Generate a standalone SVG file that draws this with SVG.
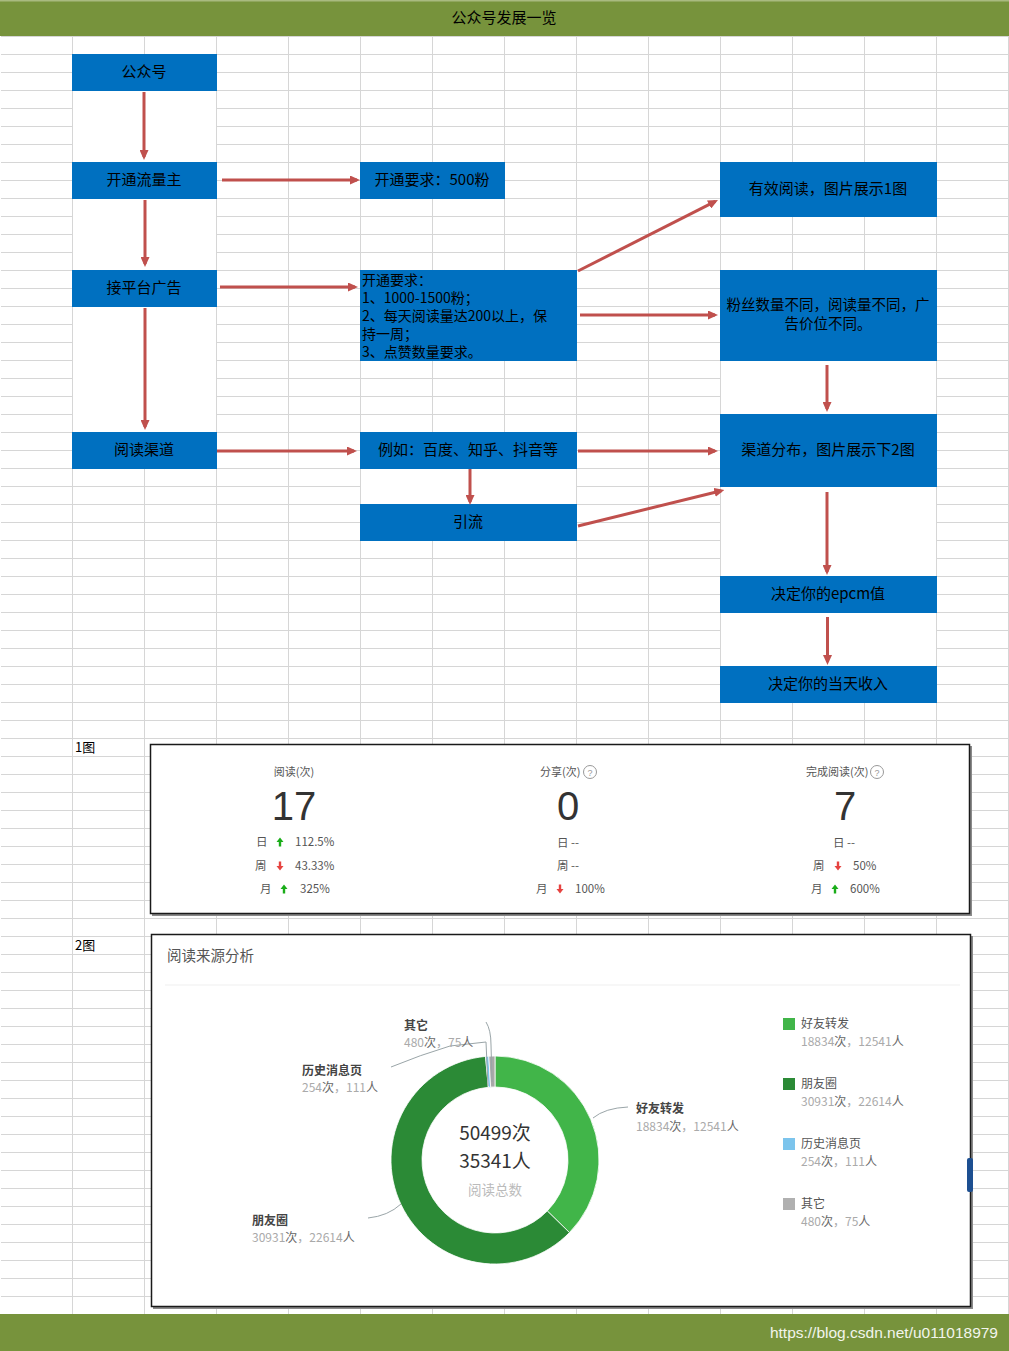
<svg xmlns="http://www.w3.org/2000/svg" width="1009" height="1351" viewBox="0 0 1009 1351">
<defs>
<pattern id="grid" patternUnits="userSpaceOnUse" x="0" y="0" width="72" height="18">
<rect width="72" height="18" fill="#fff"/>
<path d="M0 0.5H72M0.5 0V18" stroke="#d6d6d6" stroke-width="1" fill="none"/>
</pattern>
<marker id="ah" viewBox="0 0 10 9" refX="7" refY="4.5" markerWidth="10" markerHeight="9" markerUnits="userSpaceOnUse" orient="auto"><path d="M0,0 L10,4.5 L0,9 Z" fill="#C0504D"/></marker>
<path id="up" d="M-3.5,0 L0,-4.5 L3.5,0 H1.2 V4.5 H-1.2 V0 Z" fill="#1aad19"/>
<path id="dn" d="M-3.5,0 L0,4.5 L3.5,0 H1.2 V-4.5 H-1.2 V0 Z" fill="#e64340"/>
</defs>
<style>
.box{fill:#0070C0}
.bt{font-family:"Noto Sans CJK SC","Noto Sans",sans-serif;font-size:15px;fill:#000;text-anchor:middle}
.bl{font-family:"Noto Sans CJK SC","Noto Sans",sans-serif;font-size:14px;fill:#000}
.conn line{stroke:#C0504D;stroke-width:3;marker-end:url(#ah)}
.merge{fill:#fff}
.lab{font-family:"Noto Sans CJK SC","Noto Sans",sans-serif;font-size:13px;fill:#000}
.f1{font-family:"Noto Sans CJK SC","Noto Sans",sans-serif;font-size:11.5px;fill:#555}
.big{font-family:"Liberation Sans",Arial,sans-serif;font-size:40px;fill:#333;text-anchor:middle}
.q{fill:none;stroke:#999;stroke-width:1}
.qt{font-family:"Liberation Sans",Arial,sans-serif;font-size:9px;fill:#999;text-anchor:middle}
.nm{font-family:"Noto Sans CJK SC","Noto Sans",sans-serif;font-size:12px;fill:#444;font-weight:bold}
.num{font-family:"Noto Sans CJK SC","Noto Sans",sans-serif;font-size:12px;fill:#aaa}
.num tspan{fill:#666}
.lg{font-family:"Noto Sans CJK SC","Noto Sans",sans-serif;font-size:12px;fill:#555}
.ctr{font-family:"Noto Sans CJK SC","Noto Sans",sans-serif;font-size:19px;fill:#333;text-anchor:middle}
.lead{fill:none;stroke:#9aa5a8;stroke-width:1}
</style>

<!-- background sheet -->
<rect x="0" y="0" width="1009" height="1351" fill="#fff"/>
<rect x="1" y="36" width="1008" height="1278" fill="url(#grid)"/>

<!-- merged (gridless) cell areas -->
<g id="merged">
<rect class="merge" x="73" y="91" width="143" height="71"/>
<rect class="merge" x="73" y="199" width="143" height="71"/>
<rect class="merge" x="73" y="307" width="143" height="125"/>
<rect class="merge" x="361" y="469" width="215" height="35"/>
<rect class="merge" x="721" y="361" width="215" height="53"/>
<rect class="merge" x="721" y="487" width="215" height="89"/>
<rect class="merge" x="721" y="613" width="215" height="53"/>
</g>

<!-- header / footer -->
<g id="header">
<rect x="0" y="0" width="1009" height="36" fill="#77933C"/>
<rect x="0" y="0" width="1009" height="1.5" fill="#a9ba80"/>
<text x="504" y="23" style="font-family:'Noto Sans CJK SC','Noto Sans',sans-serif;font-size:15px;fill:#000;text-anchor:middle">公众号发展一览</text>
</g>
<g id="footer">
<rect x="0" y="1314" width="1009" height="37" fill="#77933C"/>
<text x="998" y="1338" style="font-family:'Liberation Sans',Arial,sans-serif;font-size:15.5px;fill:#f2f5ec;text-anchor:end">https://blog.csdn.net/u011018979</text>
</g>

<!-- nodes -->
<g id="n-gzh"><rect class="box" x="72" y="54" width="145" height="37"/><text class="bt" x="144" y="77">公众号</text></g>
<g id="n-ktllz"><rect class="box" x="72" y="162" width="145" height="37"/><text class="bt" x="144" y="185">开通流量主</text></g>
<g id="n-jptgg"><rect class="box" x="72" y="270" width="145" height="37"/><text class="bt" x="144" y="293">接平台广告</text></g>
<g id="n-ydqd"><rect class="box" x="72" y="432" width="145" height="37"/><text class="bt" x="144" y="455">阅读渠道</text></g>
<g id="n-req500"><rect class="box" x="360" y="162" width="145" height="37"/><text class="bt" x="432" y="185">开通要求：500粉</text></g>
<g id="n-reqmulti"><rect class="box" x="360" y="270" width="217" height="91"/>
<text class="bl" x="362" y="285">开通要求：</text>
<text class="bl" x="362" y="303">1、1000-1500粉；</text>
<text class="bl" x="362" y="321">2、每天阅读量达200以上，保</text>
<text class="bl" x="362" y="339">持一周；</text>
<text class="bl" x="362" y="357">3、点赞数量要求。</text>
</g>
<g id="n-example"><rect class="box" x="360" y="432" width="217" height="37"/><text class="bt" x="468" y="455">例如：百度、知乎、抖音等</text></g>
<g id="n-yinliu"><rect class="box" x="360" y="504" width="217" height="37"/><text class="bt" x="468" y="527">引流</text></g>
<g id="n-yxyd"><rect class="box" x="720" y="162" width="217" height="55"/><text class="bt" x="828" y="194">有效阅读，图片展示1图</text></g>
<g id="n-fensi"><rect class="box" x="720" y="270" width="217" height="91"/>
<text class="bt" x="828" y="310" style="font-size:14.5px">粉丝数量不同，阅读量不同，广</text>
<text class="bt" x="828" y="329" style="font-size:14.5px">告价位不同。</text>
</g>
<g id="n-qdfb"><rect class="box" x="720" y="414" width="217" height="73"/><text class="bt" x="828" y="455">渠道分布，图片展示下2图</text></g>
<g id="n-epcm"><rect class="box" x="720" y="576" width="217" height="37"/><text class="bt" x="828" y="599">决定你的epcm值</text></g>
<g id="n-income"><rect class="box" x="720" y="666" width="217" height="37"/><text class="bt" x="828" y="689">决定你的当天收入</text></g>

<!-- connectors -->
<g id="connectors" class="conn">
<line x1="144" y1="92" x2="144" y2="157"/>
<line x1="145" y1="200" x2="145" y2="264"/>
<line x1="145" y1="308" x2="145" y2="427"/>
<line x1="222" y1="180" x2="357" y2="180"/>
<line x1="220" y1="287" x2="355" y2="287"/>
<line x1="217" y1="451" x2="354" y2="451"/>
<line x1="578" y1="271" x2="715.3" y2="201.4"/>
<line x1="580" y1="315" x2="715" y2="315"/>
<line x1="827" y1="365" x2="827" y2="409"/>
<line x1="578" y1="451" x2="715" y2="451"/>
<line x1="470" y1="469" x2="470" y2="502"/>
<line x1="578" y1="526" x2="721.4" y2="490.7"/>
<line x1="827" y1="492" x2="827" y2="572"/>
<line x1="827.5" y1="617" x2="827.5" y2="662"/>
</g>

<!-- figure labels -->
<text class="lab" x="75" y="752">1图</text>
<text class="lab" x="75" y="950">2图</text>

<!-- figure 1 -->
<g id="fig1">
<rect x="152" y="746" width="820" height="170" fill="#8a8a8a"/>
<rect x="150.5" y="744.5" width="819" height="169" fill="#fff" stroke="#1a1a1a" stroke-width="1.5"/>
<text class="f1" x="294" y="776" text-anchor="middle" style="font-size:11px">阅读(次)</text>
<text class="big" x="294" y="820">17</text>
<text class="f1" x="256" y="846">日</text><use href="#up" x="280" y="842"/><text class="f1" x="295" y="846">112.5%</text>
<text class="f1" x="255" y="870">周</text><use href="#dn" x="280" y="866"/><text class="f1" x="295" y="870">43.33%</text>
<text class="f1" x="260" y="893">月</text><use href="#up" x="284" y="889"/><text class="f1" x="300" y="893">325%</text>

<text class="f1" x="540" y="776" style="font-size:11px">分享(次)</text>
<circle class="q" cx="590" cy="772" r="6.5"/><text class="qt" x="590" y="775.5">?</text>
<text class="big" x="568" y="820">0</text>
<text class="f1" x="557" y="847">日 --</text>
<text class="f1" x="557" y="870">周 --</text>
<text class="f1" x="536" y="893">月</text><use href="#dn" x="560" y="889"/><text class="f1" x="575" y="893">100%</text>

<text class="f1" x="806" y="776" style="font-size:11px">完成阅读(次)</text>
<circle class="q" cx="877" cy="772" r="6.5"/><text class="qt" x="877" y="775.5">?</text>
<text class="big" x="845" y="820">7</text>
<text class="f1" x="833" y="847">日 --</text>
<text class="f1" x="813" y="870">周</text><use href="#dn" x="838" y="866"/><text class="f1" x="853" y="870">50%</text>
<text class="f1" x="811" y="893">月</text><use href="#up" x="835" y="889"/><text class="f1" x="850" y="893">600%</text>
</g>

<!-- figure 2 -->
<g id="fig2">
<rect x="153" y="936" width="820" height="373" fill="#8a8a8a"/>
<rect x="151.5" y="934.5" width="819" height="372" fill="#fff" stroke="#1a1a1a" stroke-width="1.5"/>
<rect x="967" y="1158" width="6" height="34" rx="2" fill="#1d4f91"/>
<text x="167" y="961" style="font-family:'Noto Sans CJK SC','Noto Sans',sans-serif;font-size:14.5px;fill:#555">阅读来源分析</text>
<line x1="165" y1="985" x2="960" y2="985" stroke="#f7f7f7" stroke-width="2"/>

<g id="donut" stroke="#fff" stroke-width="0.8">
<path d="M495,1056 A104,104 0 0 1 569.48,1232.58 L547.28,1210.95 A73,73 0 0 0 495,1087 Z" fill="#41b549"/>
<path d="M569.48,1232.58 A104,104 0 1 1 485.52,1056.43 L488.35,1087.30 A73,73 0 1 0 547.28,1210.95 Z" fill="#2b8a36"/>
<path d="M485.52,1056.43 A104,104 0 0 1 488.80,1056.19 L490.65,1087.13 A73,73 0 0 0 488.35,1087.30 Z" fill="#7cc4ec"/>
<path d="M488.80,1056.19 A104,104 0 0 1 495,1056 L495,1087 A73,73 0 0 0 490.65,1087.13 Z" fill="#a9a9a9"/>
</g>
<text class="ctr" x="495" y="1140">50499次</text>
<text class="ctr" x="495" y="1168">35341人</text>
<text x="495" y="1195" style="font-family:'Noto Sans CJK SC','Noto Sans',sans-serif;font-size:13.5px;fill:#bbb;text-anchor:middle">阅读总数</text>

<path class="lead" d="M486,1022 Q491,1030 491,1045 L492,1082"/>
<path class="lead" d="M391,1067 Q420,1055 450,1046 L486,1042 L488,1086" stroke="#9cc7d6"/>
<path class="lead" d="M593,1118 Q605,1108 628,1107"/>
<path class="lead" d="M368,1218 Q388,1216 401,1204"/>

<text class="nm" x="404" y="1030">其它</text>
<text class="num" x="404" y="1047">480<tspan>次</tspan>，75<tspan>人</tspan></text>
<text class="nm" x="302" y="1075">历史消息页</text>
<text class="num" x="302" y="1092">254<tspan>次</tspan>，111<tspan>人</tspan></text>
<text class="nm" x="636" y="1113">好友转发</text>
<text class="num" x="636" y="1131">18834<tspan>次</tspan>，12541<tspan>人</tspan></text>
<text class="nm" x="252" y="1225">朋友圈</text>
<text class="num" x="252" y="1242">30931<tspan>次</tspan>，22614<tspan>人</tspan></text>

<g id="legend">
<rect x="783" y="1018" width="12" height="12" fill="#41b549"/>
<text class="lg" x="801" y="1028">好友转发</text>
<text class="num" x="801" y="1046">18834<tspan>次</tspan>，12541<tspan>人</tspan></text>
<rect x="783" y="1078" width="12" height="12" fill="#2b8a36"/>
<text class="lg" x="801" y="1088">朋友圈</text>
<text class="num" x="801" y="1106">30931<tspan>次</tspan>，22614<tspan>人</tspan></text>
<rect x="783" y="1138" width="12" height="12" fill="#7cc4ec"/>
<text class="lg" x="801" y="1148">历史消息页</text>
<text class="num" x="801" y="1166">254<tspan>次</tspan>，111<tspan>人</tspan></text>
<rect x="783" y="1198" width="12" height="12" fill="#b0b0b0"/>
<text class="lg" x="801" y="1208">其它</text>
<text class="num" x="801" y="1226">480<tspan>次</tspan>，75<tspan>人</tspan></text>
</g>
</g>
</svg>
